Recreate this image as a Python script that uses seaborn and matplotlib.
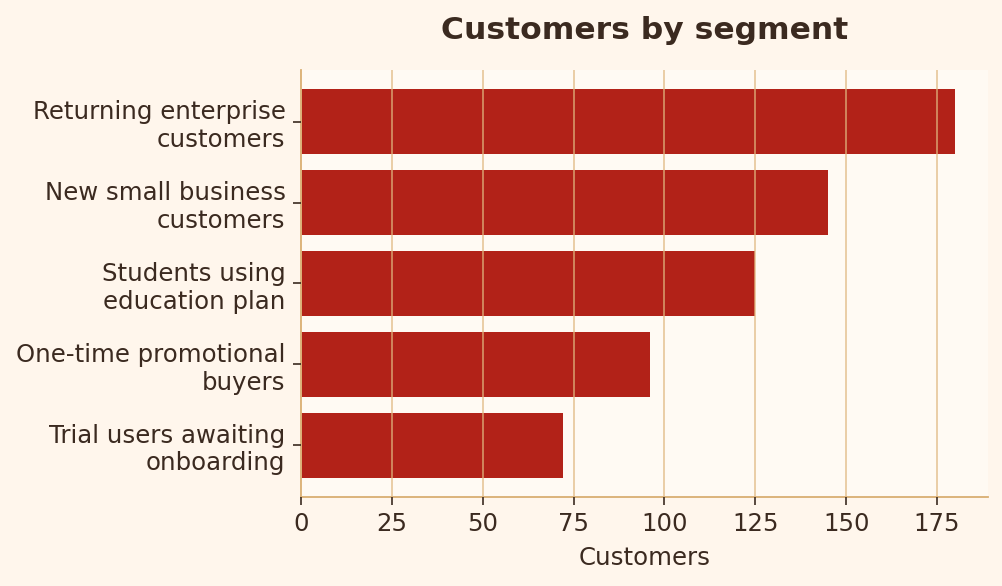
import matplotlib
matplotlib.use("Agg")
import matplotlib.pyplot as plt
import seaborn as sns
import pandas as pd

# ── Data ──────────────────────────────────────────────────
segments = [
    "Returning enterprise\ncustomers",
    "New small business\ncustomers",
    "Students using\neducation plan",
    "One-time promotional\nbuyers",
    "Trial users awaiting\nonboarding",
]
customers = [180, 145, 125, 96, 72]

BG = "#FFF6EC"
AX_BG = "#FFFAF3"
BAR = "#B22218"
SPINE = "#D9AE72"
GRID = "#E0B880"
TEXT = "#3B2A20"

sns.set_theme(style="white")
plt.rcParams.update({"font.family": "DejaVu Sans",
                     "xtick.bottom": True, "ytick.left": True})

df = pd.DataFrame({"segment": segments, "customers": customers})

fig, ax = plt.subplots(figsize=(10.03, 5.86), dpi=100)
fig.patch.set_facecolor(BG)
ax.set_facecolor(AX_BG)

sns.barplot(data=df, y="segment", x="customers", orient="h",
            color=BAR, saturation=1, width=0.8, linewidth=0, ax=ax, zorder=2)

ax.set_xlim(0, 189)
ax.set_ylim(4.64, -0.64)
ax.set_xticks([0, 25, 50, 75, 100, 125, 150, 175])
# grid is drawn over the bars in the reference, semi-transparent
ax.set_axisbelow(False)
ax.grid(axis="x", color=GRID, alpha=0.72, linewidth=1.3)

for s in ["top", "right"]:
    ax.spines[s].set_visible(False)
for s in ["left", "bottom"]:
    ax.spines[s].set_color(SPINE)
    ax.spines[s].set_linewidth(1.3)

ax.tick_params(axis="both", colors=TEXT, labelsize=17.6, length=6, width=1.2, pad=5)
ax.set_ylabel("")
ax.set_xlabel("Customers", fontsize=17.6, color=TEXT, labelpad=7)
ax.set_title("Customers by segment", fontsize=22.6, fontweight="bold", color=TEXT, pad=22)

plt.subplots_adjust(left=0.3, right=0.985, top=0.8805, bottom=0.152)
plt.savefig("out.png", facecolor=BG)
